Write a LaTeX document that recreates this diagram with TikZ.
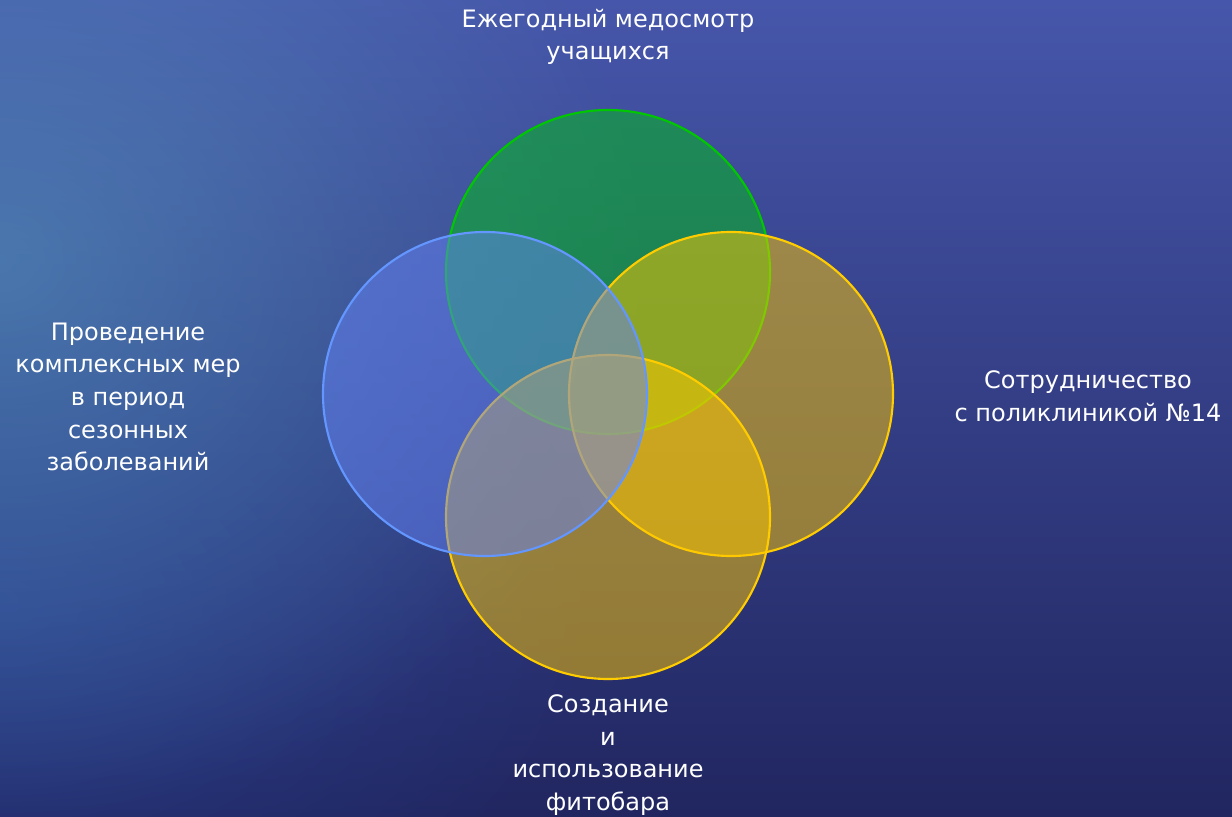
\documentclass[tikz,border=0pt]{standalone}
\usepackage{fontspec}
\setmainfont{DejaVu Sans}
\usetikzlibrary{fadings}
\definecolor{bgtop}{RGB}{70,86,170}
\definecolor{bgbot}{RGB}{33,38,96}
\definecolor{glowcol}{RGB}{85,150,190}
\definecolor{blueglow}{RGB}{45,75,160}
\definecolor{gfill}{RGB}{0,195,20}
\definecolor{gline}{RGB}{0,200,0}
\definecolor{bfill}{RGB}{100,130,245}
\definecolor{bline}{RGB}{100,150,255}
\definecolor{yfill}{RGB}{255,200,0}
\definecolor{yline}{RGB}{255,204,0}
\tikzfading[name=glowfade, inner color=transparent!0, outer color=transparent!100]
\tikzset{
  circ/.style={circle, inner sep=0pt, minimum size=243pt, line width=1.6pt, fill opacity=0.5, draw opacity=1},
  lbl/.style={text=white, align=center, font=\fontsize{18}{24.5}\selectfont, inner sep=0pt}
}
\begin{document}
\begin{tikzpicture}[x=0.75pt,y=-0.75pt]
\useasboundingbox (0,0) rectangle (1232,817);
\begin{scope}
\clip (0,0) rectangle (1232,817);
\shade[top color=bgtop, bottom color=bgbot] (0,0) rectangle (1232,817);
\fill[blueglow, path fading=glowfade, fill opacity=0.6] (0,600) ellipse [x radius=600, y radius=400];
\fill[glowcol, path fading=glowfade, fill opacity=0.6] (0,260) ellipse [x radius=650, y radius=560];
\end{scope}
\node[circ, draw=gline, fill=gfill] (g) at (608,272) {};
\node[circ, draw=yline, fill=yfill] (r) at (731,394) {};
\node[circ, draw=yline, fill=yfill] (b) at (608,517) {};
\node[circ, draw=bline, fill=bfill] (l) at (485,394) {};
\node[lbl] (tt) at (608,37) {Ежегодный медосмотр\\учащихся};
\node[lbl] (tl) at (128,397) {Проведение\\комплексных мер\\в период\\сезонных\\заболеваний};
\node[lbl] (tr) at (1088,396) {Сотрудничество\\с поликлиникой №14};
\node[lbl] (tb) at (608,755) {Создание\\и\\использование\\фитобара};
\end{tikzpicture}
\end{document}
